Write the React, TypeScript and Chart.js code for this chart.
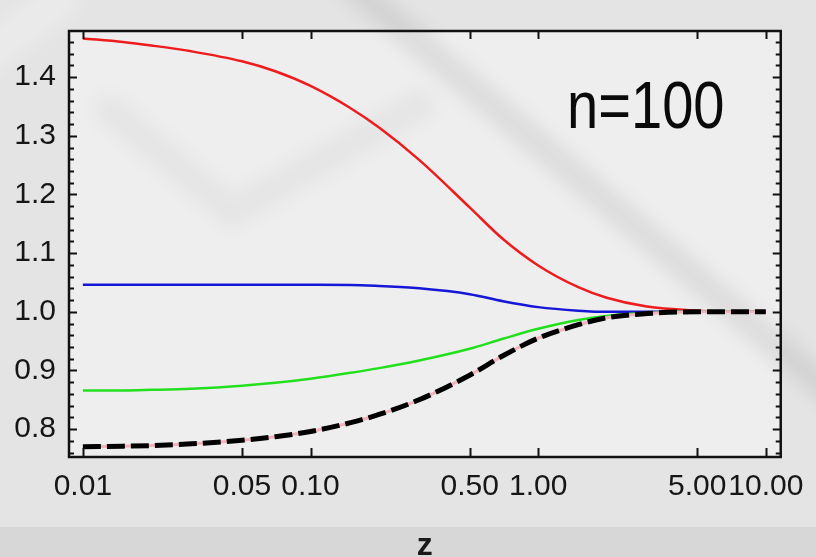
import React, { useEffect, useRef } from 'react';
import { Chart, registerables } from 'chart.js';

Chart.register(...registerables);

// ---- data ----
const zValues = [0.01, 0.015, 0.02, 0.03, 0.05, 0.07, 0.1, 0.15, 0.2, 0.3, 0.5, 0.7, 1.0, 1.5, 2.0, 3.0, 5.0, 7.0, 10.0];
const redValues = [1.466, 1.460, 1.454, 1.444, 1.427, 1.410, 1.385, 1.347, 1.314, 1.259, 1.178, 1.124, 1.079, 1.042, 1.024, 1.009, 1.002, 1.0, 1.0];
const blueValues = [1.046, 1.046, 1.046, 1.046, 1.046, 1.046, 1.046, 1.0458, 1.044, 1.040, 1.030, 1.018, 1.008, 1.002, 1.0, 1.0, 1.0, 1.0, 1.0];
const greenValues = [0.866, 0.866, 0.867, 0.869, 0.874, 0.879, 0.886, 0.896, 0.904, 0.917, 0.937, 0.954, 0.971, 0.986, 0.993, 0.998, 1.0, 1.0, 1.0];
const blackValues = [0.770, 0.771, 0.772, 0.775, 0.781, 0.787, 0.796, 0.811, 0.825, 0.850, 0.892, 0.925, 0.955, 0.978, 0.990, 0.997, 1.0, 1.0, 1.0];
const pinkValues = [0.770, 0.771, 0.772, 0.775, 0.781, 0.787, 0.796, 0.811, 0.825, 0.850, 0.892, 0.925, 0.955, 0.978, 0.990, 0.997, 1.0, 1.0, 1.0];

const xTickValues = [0.01, 0.05, 0.1, 0.5, 1, 5, 10];
const xTickLabels = ['0.01', '0.05', '0.10', '0.50', '1.00', '5.00', '10.00'];
const yTickValues = [0.8, 0.9, 1.0, 1.1, 1.2, 1.3, 1.4];
const yTickLabels = ['0.8', '0.9', '1.0', '1.1', '1.2', '1.3', '1.4'];
const yMinorStep = 0.02;

const panelLabel = 'n=100';
const xAxisTitle = 'z';

const X_MIN = 0.00869;
const X_MAX = 11.63;
const Y_MIN = 0.7525;
const Y_MAX = 1.4787;

const FONT = '"Liberation Sans", Arial, Helvetica, sans-serif';

const decorPlugin = {
  id: 'decor',
  beforeDraw(chart: any) {
    const { ctx, width, height, chartArea } = chart;
    ctx.save();
    ctx.fillStyle = '#e4e4e4';
    ctx.fillRect(0, 0, width, height);
    ctx.fillStyle = '#eeeeee';
    ctx.fillRect(chartArea.left, chartArea.top, chartArea.right - chartArea.left, chartArea.bottom - chartArea.top);
    // soft watermark streaks
    ctx.filter = 'blur(9px)';
    ctx.lineCap = 'round';
    ctx.strokeStyle = 'rgba(0,0,0,0.075)';
    ctx.lineWidth = 26;
    ctx.beginPath();
    ctx.moveTo(345, -20);
    ctx.lineTo(840, 400);
    ctx.stroke();
    ctx.strokeStyle = 'rgba(0,0,0,0.035)';
    ctx.lineWidth = 30;
    ctx.beginPath();
    ctx.moveTo(110, 110);
    ctx.lineTo(232, 212);
    ctx.lineTo(420, 105);
    ctx.stroke();
    ctx.strokeStyle = 'rgba(255,255,255,0.25)';
    ctx.lineWidth = 40;
    ctx.beginPath();
    ctx.moveTo(-20, 60);
    ctx.lineTo(60, 0);
    ctx.stroke();
    ctx.filter = 'none';
    ctx.fillStyle = '#d7d7d7';
    ctx.fillRect(0, 527, width, height - 527);
    ctx.restore();
  },
  afterDraw(chart: any) {
    const { ctx, chartArea } = chart;
    const xs = chart.scales.x;
    const ys = chart.scales.y;
    const { left, right, top, bottom } = chartArea;
    ctx.save();
    ctx.strokeStyle = '#111111';
    // ticks
    ctx.lineWidth = 2;
    ctx.beginPath();
    xTickValues.forEach((v) => {
      const px = Math.round(xs.getPixelForValue(v)) + 0.5;
      ctx.moveTo(px, bottom);
      ctx.lineTo(px, bottom - 9);
      ctx.moveTo(px, top);
      ctx.lineTo(px, top + 8);
    });
    const nMinor = Math.round((Y_MAX - Y_MIN) / yMinorStep) + 2;
    const start = Math.ceil(Y_MIN / yMinorStep);
    for (let i = start; i < start + nMinor; i++) {
      const v = i * yMinorStep;
      if (v < Y_MIN || v > Y_MAX) continue;
      const isMajor = Math.abs(v * 10 - Math.round(v * 10)) < 1e-6;
      const len = isMajor ? 8 : 5;
      const py = Math.round(ys.getPixelForValue(v)) + 0.5;
      ctx.moveTo(left, py);
      ctx.lineTo(left + len, py);
      ctx.moveTo(right, py);
      ctx.lineTo(right - len, py);
    }
    ctx.stroke();
    // frame
    ctx.lineWidth = 2.5;
    ctx.strokeRect(left, top, right - left, bottom - top);
    // panel label
    ctx.fillStyle = '#0a0a0a';
    ctx.textBaseline = 'alphabetic';
    ctx.textAlign = 'left';
    ctx.save();
    ctx.translate(567, 128);
    ctx.scale(0.85, 1);
    ctx.font = `66px ${FONT}`;
    ctx.fillText(panelLabel, 0, 0);
    ctx.restore();
    // axis title
    ctx.textAlign = 'center';
    ctx.font = `bold 32px ${FONT}`;
    ctx.fillStyle = '#1a1a1a';
    ctx.fillText(xAxisTitle, (left + right) / 2, 555);
    ctx.restore();
  },
};

export default function App() {
  const canvasRef = useRef<HTMLCanvasElement | null>(null);

  useEffect(() => {
    const canvas = canvasRef.current;
    if (!canvas) return;
    const mk = (vals: number[]) => zValues.map((z, i) => ({ x: z, y: vals[i] }));
    const common = { pointRadius: 0, cubicInterpolationMode: 'monotone', fill: false };
    const chart = new Chart(canvas, {
      type: 'line',
      data: {
        datasets: [
          { ...common, label: 'black', data: mk(blackValues), borderColor: '#000000', borderWidth: 5, borderDash: [18, 6] },
          { ...common, label: 'pink', data: mk(pinkValues), borderColor: '#f3b3bd', borderWidth: 3 },
          { ...common, label: 'green', data: mk(greenValues), borderColor: '#22e01e', borderWidth: 2.5 },
          { ...common, label: 'blue', data: mk(blueValues), borderColor: '#1616d6', borderWidth: 2.5 },
          { ...common, label: 'red', data: mk(redValues), borderColor: '#ee1c1c', borderWidth: 2.5 },
        ],
      } as any,
      options: {
        animation: false,
        responsive: false,
        maintainAspectRatio: false,
        devicePixelRatio: 1,
        layout: { padding: { left: 0, top: 14, right: 31, bottom: 0 } },
        plugins: {
          legend: { display: false },
          tooltip: { enabled: false },
          title: { display: false },
        },
        scales: {
          x: {
            type: 'logarithmic',
            min: X_MIN,
            max: X_MAX,
            grid: { display: false, drawTicks: false },
            border: { display: false },
            afterBuildTicks: (scale: any) => {
              scale.ticks = xTickValues.map((v) => ({ value: v }));
            },
            afterFit: (scale: any) => {
              scale.height = 100;
            },
            ticks: {
              autoSkip: false,
              maxRotation: 0,
              minRotation: 0,
              padding: 12,
              color: '#161616',
              font: { family: FONT, size: 30 },
              callback: (_v: any, i: number) => xTickLabels[i],
            },
          },
          y: {
            type: 'linear',
            min: Y_MIN,
            max: Y_MAX,
            grid: { display: false, drawTicks: false },
            border: { display: false },
            afterBuildTicks: (scale: any) => {
              scale.ticks = yTickValues.map((v) => ({ value: v }));
            },
            afterFit: (scale: any) => {
              scale.width = 69;
            },
            ticks: {
              autoSkip: false,
              padding: 13,
              color: '#161616',
              font: { family: FONT, size: 30 },
              callback: (_v: any, i: number) => yTickLabels[i],
            },
          },
        },
      } as any,
      plugins: [decorPlugin],
    });
    return () => chart.destroy();
  }, []);

  return (
    <div style={{ position: 'fixed', left: 0, top: 0, width: 816, height: 557, overflow: 'hidden' }}>
      <canvas ref={canvasRef} width={816} height={557} style={{ display: 'block', width: 816, height: 557 }} />
    </div>
  );
}
